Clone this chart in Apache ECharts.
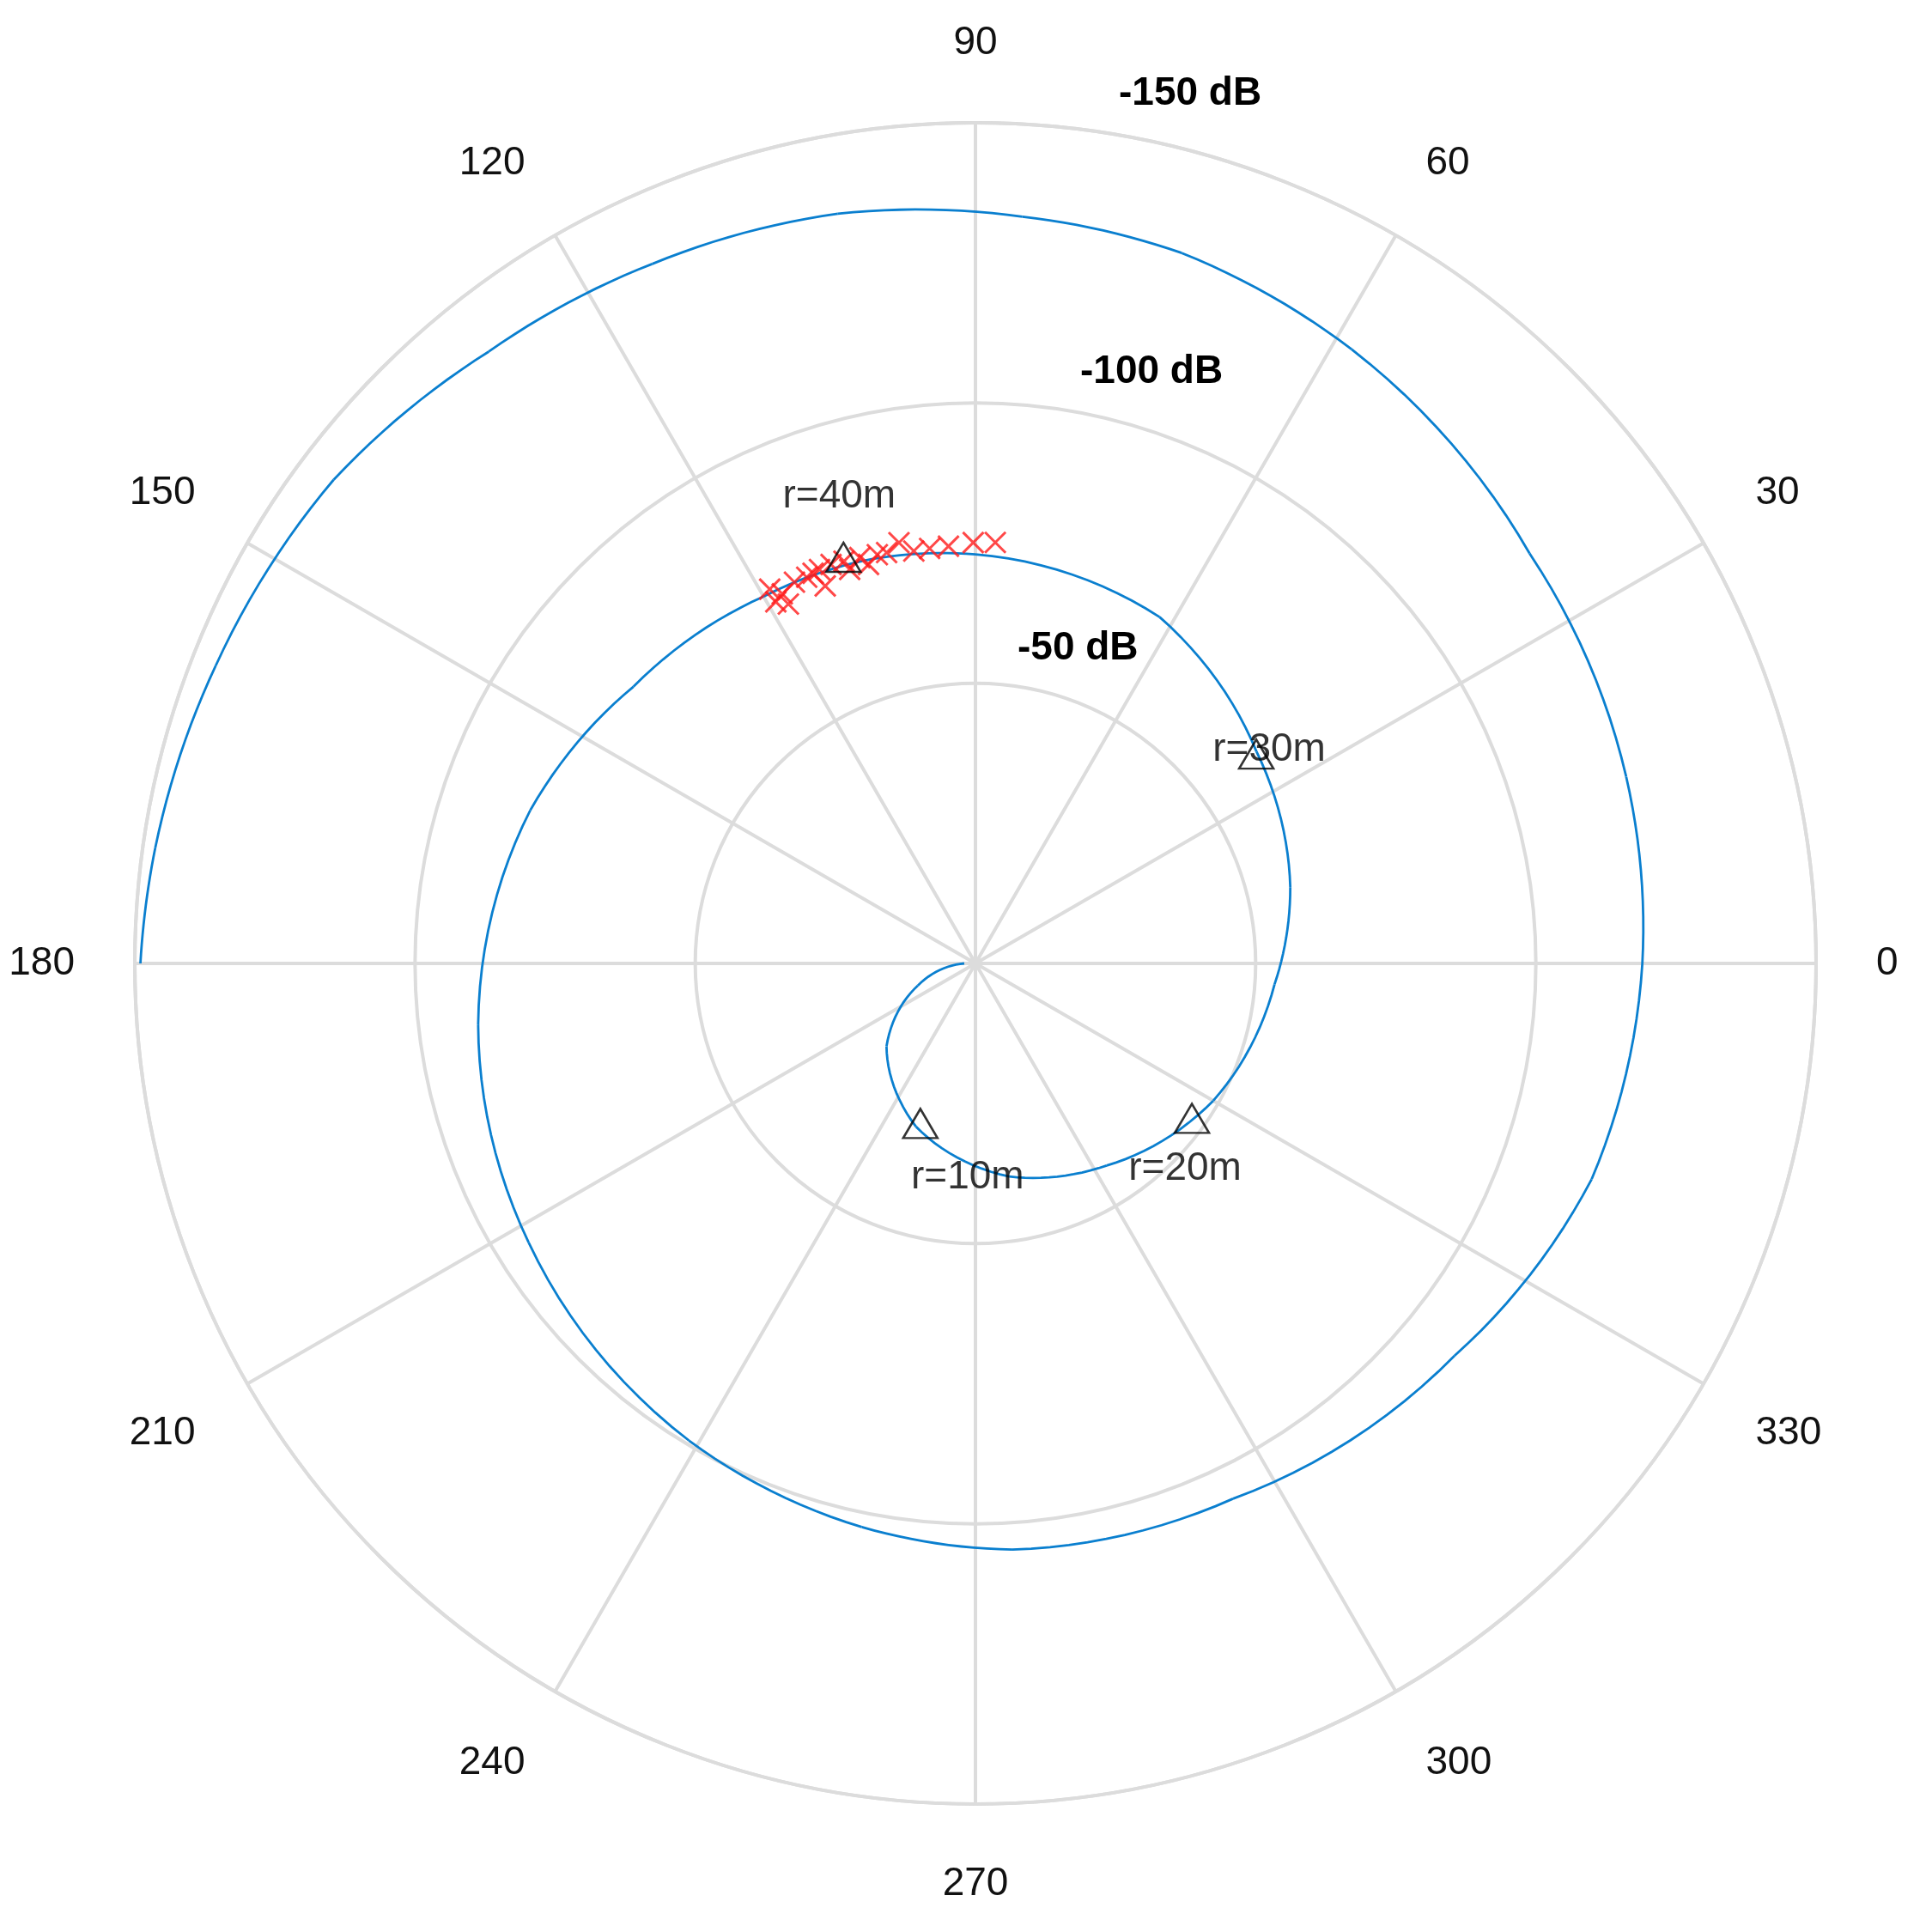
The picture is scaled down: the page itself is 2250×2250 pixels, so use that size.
<!DOCTYPE html>
<html><head><meta charset="utf-8">
<script src="https://cdn.jsdelivr.net/npm/echarts@6/dist/echarts.min.js"></script>
<style>html,body{margin:0;background:#fff}#c{width:2250px;height:2250px}</style>
</head><body><div id="c"></div>
<script>
// spiral: [pathLoss(dB magnitude), angle(deg, unwrapped)]
const spiralLoss = [2,11,21.7,31,38.5,43,49,53.5,57.8,62.8,70,73,74.6,75.6,78.5,84,89.4,94,99.3,102.6,104.8,106,110.5,116.5,119,120.8,123,128.5,132,133.5,136,137.5,139.5,143.4,145.6,147.8,149];
const spiralAngle = [180,201,223,250,279,303,330,356,373.6,397,422,450,465.7,480,501,521,547,572,599,618.6,633.6,655.7,680.7,700.7,720,736,756.5,778.5,793.8,806.4,820.4,834.8,848.5,863,878.6,892,900];
const markLoss = [30.2,47.5,62.5,76.2];
const markAngle = [251,324.4,36.7,108];
const markNames = ['r=10m','r=20m','r=30m','r=40m'];
const xLoss = [73.7,76.2,74.4,75.3,75.2,75.6,72.5,75.7,75.5,73.8,75.3,73.7,75,75,76.3,74.4,74.5,74.6,75.1,75.2,72.3,75.4];
const xAngle = [118.9,118.8,117.6,115.4,113.6,111.6,111.7,109.9,108.1,107.7,105.9,105,103.5,102.2,100.3,98.5,96.3,93.7,90.3,87.3,117.5,112.6];
const angleTicks = [0,30,60,90,120,150,180,210,240,270,300,330];
const ringLabels = ['-50 dB','-100 dB','-150 dB'];

const font = 'Liberation Sans, Arial, sans-serif';
const chart = echarts.init(document.getElementById('c'));
const labelPos = [
  {position:'bottom', distance:22, offset:[55,0]},
  {position:'bottom', distance:18, offset:[-8,0]},
  {position:'inside', offset:[15,-5]},
  {position:'top', distance:30, offset:[-5,0]}
];
chart.setOption({
  animation:false,
  polar:{center:[1136,1122], radius:979},
  angleAxis:{type:'value', min:0, max:360, interval:30, startAngle:0, clockwise:false,
    axisLine:{lineStyle:{color:'#dcdcdc', width:4}},
    axisTick:{show:false},
    axisLabel:{color:'#111', fontSize:46, fontFamily:font, margin:70,
      formatter:v=>angleTicks.includes(v)?String(v):''},
    splitLine:{show:true, lineStyle:{color:'#dcdcdc', width:4}}},
  radiusAxis:{type:'value', min:0, max:150, interval:50,
    axisLine:{show:false}, axisTick:{show:false}, axisLabel:{show:false},
    splitLine:{show:true, lineStyle:{color:'#dcdcdc', width:4}}},
  series:[
    {type:'custom', coordinateSystem:'polar',
      data:spiralLoss.map((r,i)=>[r, spiralAngle[i]%360]),
      renderItem:(params, api)=>{
        const i = params.dataIndex;
        if (i >= spiralLoss.length-1) return null;
        const pts = [];
        const n = 12;
        for (let k=0;k<=n;k++){
          const t=k/n;
          const r = spiralLoss[i]+(spiralLoss[i+1]-spiralLoss[i])*t;
          const a = spiralAngle[i]+(spiralAngle[i+1]-spiralAngle[i])*t;
          pts.push(api.coord([r, ((a%360)+360)%360]));
        }
        return {type:'polyline', shape:{points:pts}, style:{stroke:'#0a7fcf', lineWidth:2.8, fill:null}};
      }},
    {type:'scatter', coordinateSystem:'polar', symbol:'path://M0,0L10,10M10,0L0,10', symbolSize:24,
      itemStyle:{color:'none', borderColor:'#ff1a1a', borderWidth:3},
      data:xLoss.map((r,i)=>[r,xAngle[i]])},
    {type:'scatter', coordinateSystem:'polar', symbol:'triangle', symbolSize:[40,34],
      itemStyle:{color:'rgba(0,0,0,0)', borderColor:'#000', borderWidth:2.5},
      label:{show:true, color:'#000', fontSize:46, fontFamily:font, formatter:p=>p.name},
      data:markLoss.map((r,i)=>({name:markNames[i], value:[r,markAngle[i]], label:labelPos[i]}))}
  ],
  graphic:[
    {type:'text', left:1185, top:732, style:{text:ringLabels[0], font:'bold 46px '+font, fill:'#000'}},
    {type:'text', left:1258, top:410, style:{text:ringLabels[1], font:'bold 46px '+font, fill:'#000'}},
    {type:'text', left:1303, top:86, style:{text:ringLabels[2], font:'bold 46px '+font, fill:'#000'}}
  ]
});
</script></body></html>
